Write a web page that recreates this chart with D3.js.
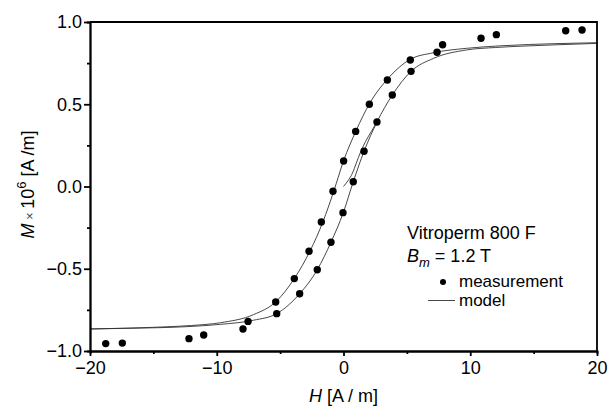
<!DOCTYPE html>
<html>
<head>
<meta charset="utf-8">
<script src="https://cdn.jsdelivr.net/npm/d3@7"></script>
<style>
  body { margin: 0; background: #fff; }
  text { font-family: "Liberation Sans", Arial, sans-serif; fill: #000; }
</style>
</head>
<body>
<script>
// data
const measurement = [
  [-18.76, -0.955], [-17.45, -0.952], [-12.19, -0.925], [-11.03, -0.903],
  [-7.93, -0.866], [-7.53, -0.82], [-5.35, -0.702], [-5.27, -0.773],
  [-3.88, -0.56], [-3.46, -0.652], [-2.72, -0.394], [-2.07, -0.506],
  [-1.75, -0.216], [-0.99, -0.339], [-0.83, -0.029], [-0.04, -0.159],
  [0.01, 0.155], [0.77, 0.029], [0.96, 0.335], [1.62, 0.214],
  [2.04, 0.50], [2.64, 0.392], [3.46, 0.647], [3.85, 0.556],
  [5.27, 0.769], [5.33, 0.70], [7.38, 0.816], [7.82, 0.862],
  [10.85, 0.901], [12.06, 0.923], [17.53, 0.947], [18.82, 0.951]
];

// model: descending (upper) branch
const modelUpper = [
  [-20, -0.866], [-17, -0.861], [-14, -0.853], [-12, -0.845], [-9.7, -0.828],
  [-7.1, -0.779], [-5.33, -0.70], [-3.85, -0.556], [-2.64, -0.392],
  [-1.62, -0.214], [-0.77, -0.029], [0, 0.155], [0.99, 0.339], [2.07, 0.506],
  [3.46, 0.652], [5.27, 0.773], [7.1, 0.813], [9.7, 0.840], [12.35, 0.855],
  [17, 0.869], [20, 0.874]
];

// model: ascending (lower) branch
const modelLower = [
  [-20, -0.866], [-17, -0.862], [-12.35, -0.852], [-9.7, -0.838], [-7.1, -0.813],
  [-5.27, -0.773], [-3.46, -0.652], [-2.07, -0.506], [-0.99, -0.339],
  [0, -0.155], [0.77, 0.029], [1.62, 0.214], [2.64, 0.392], [3.85, 0.556],
  [5.33, 0.70], [7.1, 0.779], [9.7, 0.830], [12, 0.845], [14, 0.853],
  [17, 0.862], [20, 0.870]
];

// model: initial magnetization curve from the origin
const modelInitial = [
  [0, 0], [0.35, 0.035], [0.7, 0.08], [1.0, 0.14], [1.35, 0.21],
  [1.75, 0.275], [2.2, 0.335], [2.64, 0.392]
];

const xTicks = [-20, -10, 0, 10, 20];
const xMinor = [-15, -5, 5, 15];
const yTicks = [-1, -0.5, 0, 0.5, 1];
const yMinor = [-0.75, -0.25, 0.25, 0.75];

const width = 611, height = 412;
const margin = { top: 22, right: 14, bottom: 61, left: 90 };
const fontSize = 18;

const svg = d3.select('body')
  .append('svg')
  .attr('width', width)
  .attr('height', height);

const x = d3.scaleLinear().domain([-20, 20]).range([margin.left, width - margin.right]);
const y = d3.scaleLinear().domain([-1, 1]).range([height - margin.bottom, margin.top]);

// clip for the curves
svg.append('clipPath').attr('id', 'plot-clip')
  .append('rect')
  .attr('x', x(-20)).attr('y', y(1))
  .attr('width', x(20) - x(-20)).attr('height', y(-1) - y(1));

// model lines
const line = d3.line()
  .x(d => x(d[0]))
  .y(d => y(d[1]))
  .curve(d3.curveMonotoneX);

const curves = svg.append('g').attr('clip-path', 'url(#plot-clip)');
[modelUpper, modelLower, modelInitial].forEach(data => {
  curves.append('path')
    .datum(data)
    .attr('d', line)
    .attr('fill', 'none')
    .attr('stroke', '#333')
    .attr('stroke-width', 0.9);
});

// measurement points
svg.append('g')
  .selectAll('circle')
  .data(measurement)
  .enter()
  .append('circle')
  .attr('cx', d => x(d[0]))
  .attr('cy', d => y(d[1]))
  .attr('r', 3.7)
  .attr('fill', '#000');

// frame (top and right)
svg.append('path')
  .attr('d', `M${x(-20)},${y(1)}H${x(20)}V${y(-1)}`)
  .attr('fill', 'none')
  .attr('stroke', '#000')
  .attr('stroke-width', 1.8);

// axes
const xAxis = d3.axisBottom(x).tickValues(xTicks).tickSize(5).tickSizeOuter(0).tickPadding(5)
  .tickFormat(d3.format('d'));
const xAxisMinor = d3.axisBottom(x).tickValues(xMinor).tickSize(3).tickFormat('');
const yAxis = d3.axisLeft(y).tickValues(yTicks).tickSize(6).tickSizeOuter(0).tickPadding(2)
  .tickFormat(d3.format('.1f'));
const yAxisMinor = d3.axisLeft(y).tickValues(yMinor).tickSize(3).tickFormat('');

const styleAxis = g => {
  g.selectAll('path, line').attr('stroke', '#000').attr('stroke-width', 1.8);
  g.selectAll('text').attr('font-size', fontSize).attr('font-family', '"Liberation Sans", Arial, sans-serif');
};

svg.append('g')
  .attr('transform', `translate(0,${y(-1)})`)
  .call(xAxisMinor)
  .call(styleAxis);

svg.append('g')
  .attr('transform', `translate(0,${y(-1)})`)
  .call(xAxis)
  .call(styleAxis);

svg.append('g')
  .attr('transform', `translate(${x(-20)},0)`)
  .call(yAxisMinor)
  .call(styleAxis);

svg.append('g')
  .attr('transform', `translate(${x(-20)},0)`)
  .call(yAxis)
  .call(styleAxis);

// axis titles
const xTitle = svg.append('text')
  .attr('x', x(0))
  .attr('y', 402)
  .attr('text-anchor', 'middle')
  .attr('font-size', fontSize);
xTitle.append('tspan').attr('font-style', 'italic').text('H');
xTitle.append('tspan').text(' [A / m]');

const yTitle = svg.append('text')
  .attr('transform', `translate(34,${y(0) - 2}) rotate(-90)`)
  .attr('text-anchor', 'middle')
  .attr('font-size', fontSize);
yTitle.append('tspan').attr('font-style', 'italic').text('M');
yTitle.append('tspan').attr('font-size', 13).attr('fill', '#444').text(' \u00d7 ');
yTitle.append('tspan').text('10');
yTitle.append('tspan').attr('font-size', 13).attr('dy', -8).text('6');
yTitle.append('tspan').attr('dy', 8).text(' [A /m]');

// legend
const legend = svg.append('g');

legend.append('text')
  .attr('x', 407)
  .attr('y', 239)
  .attr('font-size', fontSize)
  .text('Vitroperm 800 F');

const bm = legend.append('text')
  .attr('x', 407)
  .attr('y', 262)
  .attr('font-size', fontSize);
bm.append('tspan').attr('font-style', 'italic').text('B');
bm.append('tspan').attr('font-style', 'italic').attr('font-size', 13).attr('dy', 5).text('m');
bm.append('tspan').attr('dy', -5).text(' = 1.2 T');

legend.append('circle')
  .attr('cx', 443)
  .attr('cy', 282)
  .attr('r', 3)
  .attr('fill', '#000');

legend.append('text')
  .attr('x', 459)
  .attr('y', 287)
  .attr('font-size', 17)
  .text('measurement');

legend.append('line')
  .attr('x1', 428).attr('x2', 455)
  .attr('y1', 300.5).attr('y2', 300.5)
  .attr('stroke', '#333')
  .attr('stroke-width', 0.9);

legend.append('text')
  .attr('x', 459)
  .attr('y', 306)
  .attr('font-size', 17)
  .text('model');
</script>
</body>
</html>
